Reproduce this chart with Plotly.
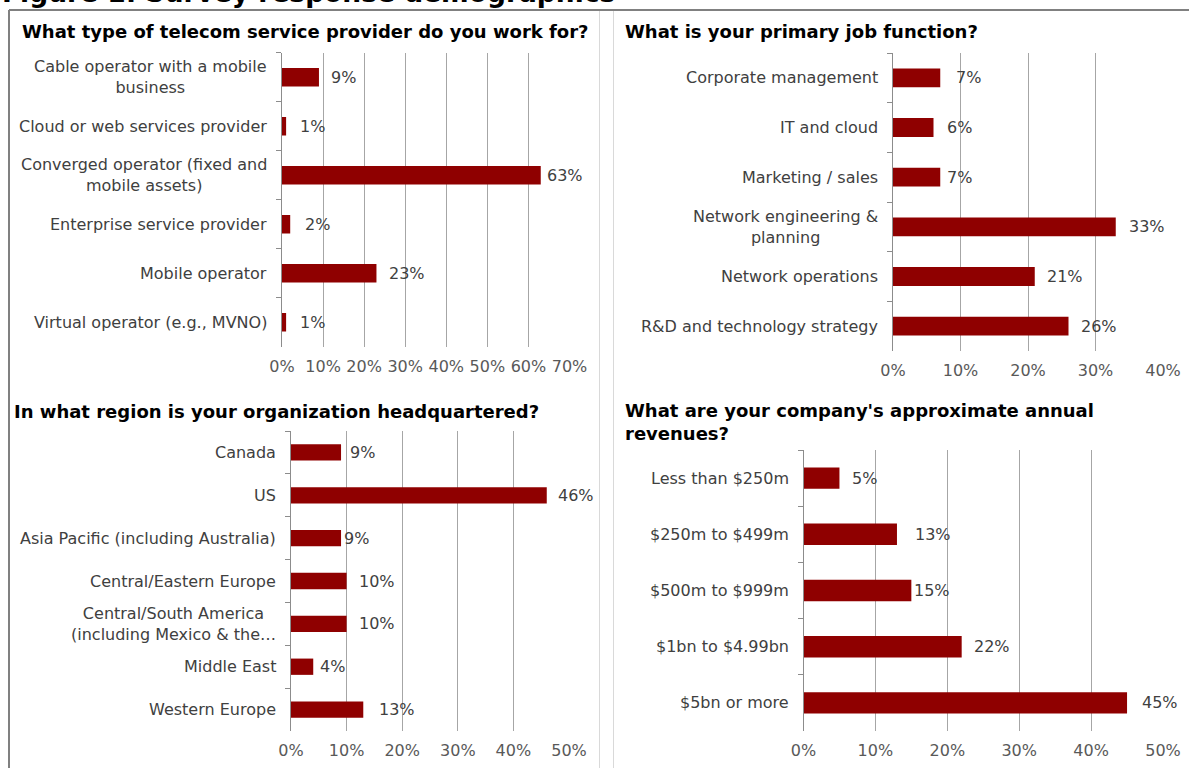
import plotly.graph_objects as go

# ---- survey data (percent of respondents) ----
provider_labels = [
    "Cable operator with a mobile<br>business",
    "Cloud or web services provider",
    "Converged operator (fixed and<br>mobile assets)",
    "Enterprise service provider",
    "Mobile operator",
    "Virtual operator (e.g., MVNO)",
]
provider_values = [9, 1, 63, 2, 23, 1]

job_labels = [
    "Corporate management",
    "IT and cloud",
    "Marketing / sales",
    "Network engineering &<br>planning",
    "Network operations",
    "R&D and technology strategy",
]
job_values = [7, 6, 7, 33, 21, 26]

region_labels = [
    "Canada",
    "US",
    "Asia Pacific (including Australia)",
    "Central/Eastern Europe",
    "Central/South America<br>(including Mexico & the…",
    "Middle East",
    "Western Europe",
]
region_values = [9, 46, 9, 10, 10, 4, 13]

revenue_labels = [
    "Less than $250m",
    "$250m to $499m",
    "$500m to $999m",
    "$1bn to $4.99bn",
    "$5bn or more",
]
revenue_values = [5, 13, 15, 22, 45]

# ---- styling ----
W, H = 1189, 768
FONT = "DejaVu Sans"
BAR = "#8f0000"
GRID = "#a6a6a6"
AXIS = "#8c8c8c"
TXT = "#404040"
TICK = "#595959"
LABEL_SIZE = 16
TITLE_SIZE = 18


def px_x(p):
    return p / W


def px_y(p):
    return 1 - p / H


# panel geometry in pixels: (left, right, top, bottom), x max, title
panels = [
    dict(labels=provider_labels, values=provider_values, box=(282, 569.5, 52.7, 346.7),
         xmax=70, title="What type of telecom service provider do you work for?",
         title_xy=(20, 31), shifts=[10, 12, 4, 13, 11, 12]),
    dict(labels=job_labels, values=job_values, box=(893, 1163, 53, 351),
         xmax=40, title="What is your primary job function?",
         title_xy=(623, 31), shifts=[14, 11, 5, 11, 10, 10]),
    dict(labels=region_labels, values=region_values, box=(291, 569, 431, 731),
         xmax=50, title="In what region is your organization headquartered?",
         title_xy=(12, 411), shifts=[7, 9, 1, 10, 10, 5, 14]),
    dict(labels=revenue_labels, values=revenue_values, box=(803.5, 1163, 450, 731),
         xmax=50, title="What are your company's approximate annual<br>revenues?",
         title_xy=(623, 422), shifts=[11, 16, 1, 10, 13]),
]

fig = go.Figure()
annotations = []
layout_axes = {}

for i, p in enumerate(panels, start=1):
    xa = "x" if i == 1 else f"x{i}"
    ya = "y" if i == 1 else f"y{i}"
    xkey = "xaxis" if i == 1 else f"xaxis{i}"
    ykey = "yaxis" if i == 1 else f"yaxis{i}"
    left, right, top, bottom = p["box"]
    n = len(p["labels"])

    fig.add_trace(go.Bar(
        x=p["values"], y=p["labels"], orientation="h",
        marker=dict(color=BAR, line=dict(width=0)),
        xaxis=xa, yaxis=ya, showlegend=False, hoverinfo="x+y",
    ))

    layout_axes[xkey] = dict(
        domain=[px_x(left), px_x(right)], anchor=ya,
        range=[0, p["xmax"]], dtick=10, ticksuffix="%",
        showgrid=True, gridcolor=GRID, gridwidth=1,
        zeroline=False, showline=False, ticks="",
        tickfont=dict(family=FONT, size=LABEL_SIZE, color=TICK),
        ticklabelstandoff=8, automargin=False, fixedrange=True,
    )
    layout_axes[ykey] = dict(
        domain=[px_y(bottom), px_y(top)], anchor=xa,
        type="category", categoryorder="array", categoryarray=p["labels"],
        range=[n - 0.5, -0.5], showticklabels=False,
        showline=True, linecolor=AXIS, linewidth=1,
        ticks="outside", tickson="boundaries", ticklen=5, tickcolor=AXIS,
        showgrid=False, zeroline=False, automargin=False, fixedrange=True,
    )

    # category labels, centred lines, right-aligned against the axis
    for lab in p["labels"]:
        annotations.append(dict(
            text=lab, xref="paper", x=px_x(left - 13), xanchor="right",
            yref=ya, y=lab, yanchor="middle", align="center",
            showarrow=False, font=dict(family=FONT, size=LABEL_SIZE, color=TXT),
        ))

    # value labels at the end of each bar
    for lab, v, s in zip(p["labels"], p["values"], p["shifts"]):
        annotations.append(dict(
            text=f"{v}%", xref=xa, x=v, xanchor="left", xshift=s,
            yref=ya, y=lab, yanchor="middle",
            showarrow=False, font=dict(family=FONT, size=LABEL_SIZE, color=TXT),
        ))

    # panel title
    tx, ty = p["title_xy"]
    annotations.append(dict(
        text=f"<b>{p['title']}</b>", xref="paper", yref="paper",
        x=px_x(tx), y=px_y(ty), xanchor="left", yanchor="middle", align="left",
        showarrow=False, font=dict(family=FONT, size=TITLE_SIZE, color="#000000"),
    ))

# figure heading, running off the top edge of the page
annotations.append(dict(
    text="<b>Figure 1: Survey response demographics</b>", xref="paper", yref="paper",
    x=px_x(0), y=px_y(10), xanchor="left", yanchor="bottom",
    showarrow=False, font=dict(family=FONT, size=26.5, color="#000000"),
))

shapes = [
    # frame: top rule and left rule
    dict(type="line", xref="paper", yref="paper", x0=px_x(9), x1=1, y0=px_y(10), y1=px_y(10),
         line=dict(color="#808080", width=2)),
    dict(type="line", xref="paper", yref="paper", x0=px_x(9), x1=px_x(9), y0=px_y(10), y1=0,
         line=dict(color="#808080", width=2)),
    # column dividers
    dict(type="line", xref="paper", yref="paper", x0=px_x(599.5), x1=px_x(599.5), y0=px_y(11), y1=0,
         line=dict(color="#d9d9d9", width=1)),
    dict(type="line", xref="paper", yref="paper", x0=px_x(613.5), x1=px_x(613.5), y0=px_y(11), y1=0,
         line=dict(color="#d9d9d9", width=1)),
]

fig.update_layout(
    width=W, height=H, autosize=False,
    margin=dict(l=0, r=0, t=0, b=0, pad=0),
    paper_bgcolor="white", plot_bgcolor="white",
    bargap=0.62, font=dict(family=FONT),
    annotations=annotations, shapes=shapes,
    **layout_axes,
)

fig.write_html("out.html")
